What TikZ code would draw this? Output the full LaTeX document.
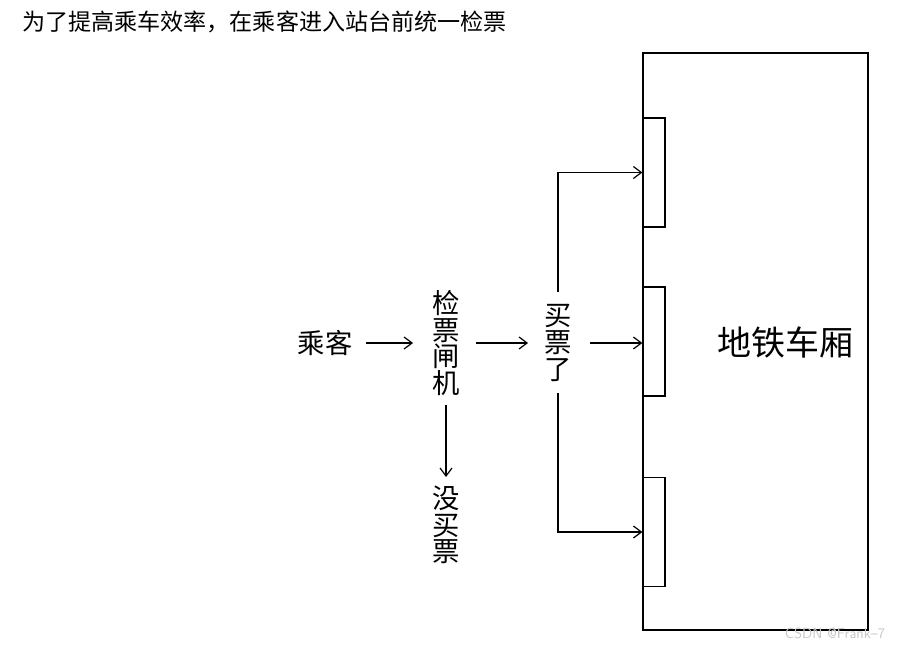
\documentclass[tikz,border=0pt]{standalone}
\usepackage{fontspec}
\setmainfont{Noto Sans CJK SC}
\usetikzlibrary{arrows.meta}
\begin{document}
\begin{tikzpicture}[x=0.75pt,y=-0.75pt,
  box/.style={draw=black,line width=0.9pt},
  arr/.style={draw=black,line width=0.9pt,-{Straight Barb[length=6pt,width=9pt]}},
  lbl/.style={inner sep=1pt,font=\fontsize{20.5}{20}\selectfont,align=center}]
\useasboundingbox (0,0) rectangle (906,649);
\fill[white] (0,0) rectangle (906,649);
\node[anchor=west,inner sep=0,font=\fontsize{17.3}{20}\selectfont] (title) at (22,22) {为了提高乘车效率，在乘客进入站台前统一检票};
\node[box,minimum width=225*0.75pt,minimum height=577*0.75pt,inner sep=0] (car) at (755.5,341.5) {};
\node[box,minimum width=22*0.75pt,minimum height=109*0.75pt,inner sep=0] (d1) at (654,172.5) {};
\node[box,minimum width=22*0.75pt,minimum height=109*0.75pt,inner sep=0] (d2) at (654,341.5) {};
\node[box,minimum width=22*0.75pt,minimum height=109*0.75pt,inner sep=0] (d3) at (654,532) {};
\node[inner sep=0,font=\fontsize{25.5}{30}\selectfont] (cn) at (785,342) {地铁车厢};
\node[lbl] (p) at (325,343) {乘客};
\node[lbl] (g) at (446,343) {检\\票\\闸\\机};
\node[lbl] (b) at (558,343) {买\\票\\了};
\node[lbl] (n) at (446,525) {没\\买\\票};
\coordinate (a1) at (366,343); \coordinate (a2) at (413,343);
\coordinate (b1) at (476,343); \coordinate (b2) at (528,343);
\coordinate (c1) at (590,343);
\coordinate (u) at (558,292); \coordinate (dn) at (558,393);
\coordinate (g1) at (446,405); \coordinate (g2) at (446,477);
\draw[arr] (a1) -- (a2);
\draw[arr] (b1) -- (b2);
\draw[arr] (c1) -- (d2.west|-c1);
\draw[arr] (u) |- (d1.west);
\draw[arr] (dn) |- (d3.west);
\draw[arr] (g1) -- (g2);
\node[text=black!22,font=\fontsize{11}{12}\selectfont\sffamily,inner sep=0] (wm) at (835,633) {CSDN @Frank--7};
\end{tikzpicture}
\end{document}
